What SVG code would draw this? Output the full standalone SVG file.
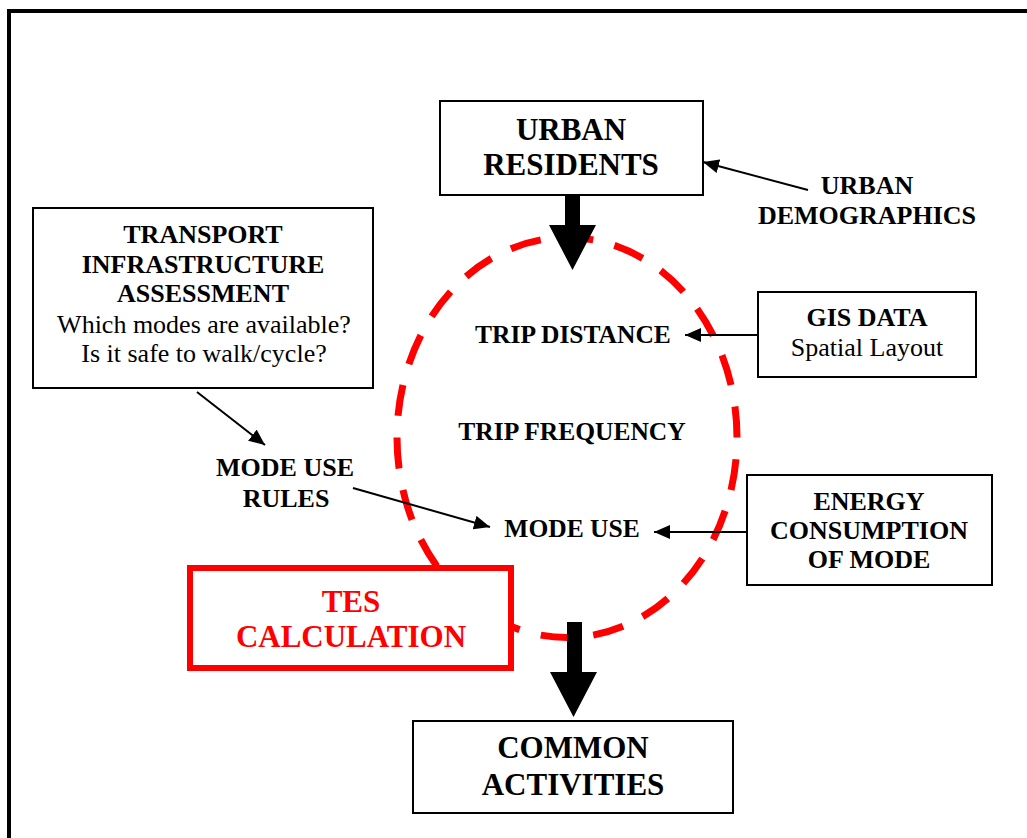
<svg xmlns="http://www.w3.org/2000/svg" width="1027" height="838" viewBox="0 0 1027 838">
<style>
.box{fill:#fff;stroke:#000;stroke-width:2}
.t{font-family:"Liberation Serif","Times New Roman",serif;fill:#000;text-anchor:middle}
.b{font-weight:bold}
.big{font-size:31px}
.mid{font-size:26px}
.ctr{font-size:25.5px}
.conn{stroke:#000;stroke-width:2;fill:none;marker-end:url(#ah)}
</style>
<defs>
<marker id="ah" markerUnits="userSpaceOnUse" markerWidth="17" markerHeight="14" refX="16" refY="7" orient="auto">
<path d="M0,0 L16,7 L0,14 z" fill="#000"/>
</marker>
</defs>
<rect width="1027" height="838" fill="#fff"/>
<rect x="9" y="11" width="1030" height="840" fill="none" stroke="#000" stroke-width="4"/>

<g id="cycle">
<ellipse cx="567" cy="437.5" rx="170" ry="200" fill="none" stroke="#f00" stroke-width="7" stroke-dasharray="30 21" stroke-dashoffset="30" pathLength="1122"/>
</g>

<g id="urban-residents">
<rect class="box" x="440" y="101" width="263" height="94"/>
<text class="t b big" x="571" y="140">URBAN</text>
<text class="t b big" x="571" y="175">RESIDENTS</text>
</g>

<g id="urban-demographics">
<text class="t b mid" x="867" y="194">URBAN</text>
<text class="t b mid" x="867" y="224">DEMOGRAPHICS</text>
</g>

<g id="transport">
<rect class="box" x="33" y="208" width="340" height="180"/>
<text class="t b mid" x="203" y="243">TRANSPORT</text>
<text class="t b mid" x="203" y="273">INFRASTRUCTURE</text>
<text class="t b mid" x="203" y="302">ASSESSMENT</text>
<text class="t mid" x="204" y="333">Which modes are available?</text>
<text class="t mid" x="204" y="362">Is it safe to walk/cycle?</text>
</g>

<g id="gis">
<rect class="box" x="758" y="292" width="218" height="85"/>
<text class="t b mid" x="867" y="326">GIS DATA</text>
<text class="t mid" x="867" y="356">Spatial Layout</text>
</g>

<g id="trip-distance"><text class="t b ctr" x="573" y="343">TRIP DISTANCE</text></g>
<g id="trip-frequency"><text class="t b ctr" x="572" y="440">TRIP FREQUENCY</text></g>
<g id="mode-use"><text class="t b ctr" x="572" y="537">MODE USE</text></g>

<g id="mode-use-rules">
<text class="t b mid" x="285" y="476">MODE USE</text>
<text class="t b mid" x="286" y="507">RULES</text>
</g>

<g id="energy">
<rect class="box" x="747" y="475" width="245" height="110"/>
<text class="t b mid" x="869" y="510">ENERGY</text>
<text class="t b mid" x="869" y="539">CONSUMPTION</text>
<text class="t b mid" x="869" y="568">OF MODE</text>
</g>

<g id="tes">
<rect x="190" y="568" width="321" height="100" fill="#fff" stroke="#f00" stroke-width="6"/>
<text class="t b big" x="351" y="612" style="fill:#f00">TES</text>
<text class="t b big" x="351" y="647" style="fill:#f00">CALCULATION</text>
</g>

<g id="common-activities">
<rect class="box" x="413" y="721" width="320" height="92"/>
<text class="t b big" x="573" y="758">COMMON</text>
<text class="t b big" x="573" y="795">ACTIVITIES</text>
</g>

<g id="connectors">
<polygon points="565,195 580,195 580,225 596,225 572.5,270 549,225 565,225" fill="#000"/>
<polygon points="567,622 582,622 582,672 597,672 573.5,717 550,672 567,672" fill="#000"/>
<line class="conn" x1="808" y1="190" x2="703" y2="162"/>
<line class="conn" x1="758" y1="335" x2="685" y2="335"/>
<line class="conn" x1="747" y1="532" x2="654" y2="532"/>
<line class="conn" x1="197" y1="392" x2="265" y2="445"/>
<line class="conn" x1="353" y1="488" x2="490" y2="527"/>
</g>
</svg>
